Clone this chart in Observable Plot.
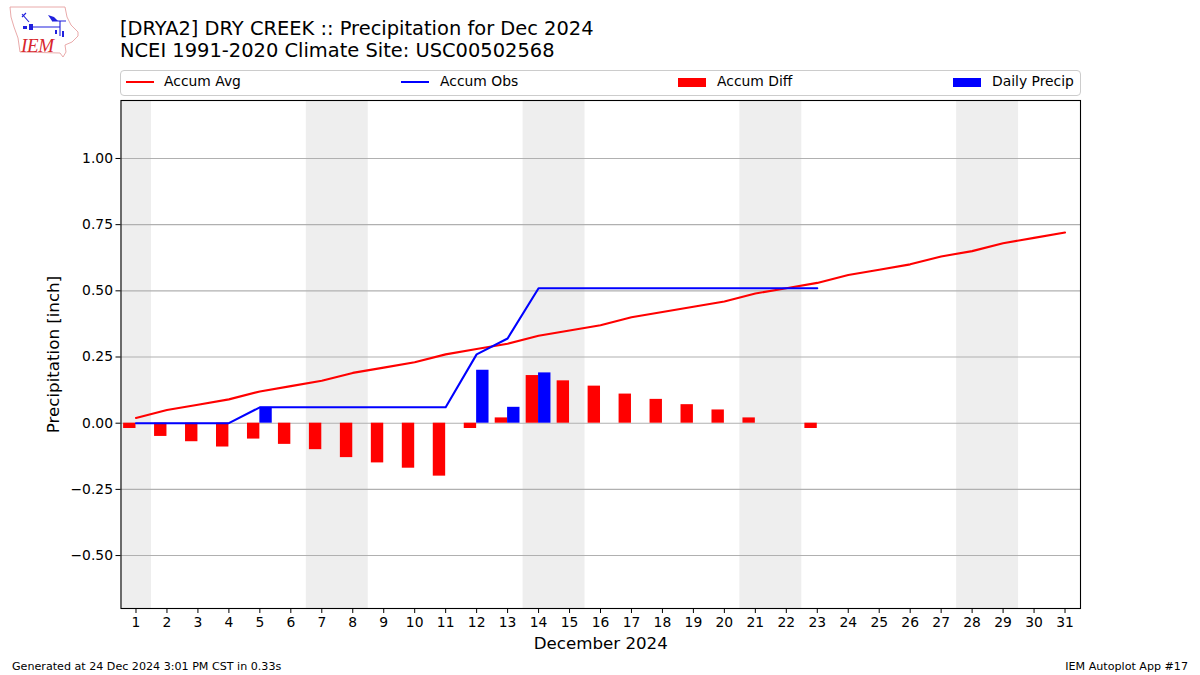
<!DOCTYPE html>
<html>
<head>
<meta charset="utf-8">
<script src="https://cdn.jsdelivr.net/npm/d3@7"></script>
<script src="https://cdn.jsdelivr.net/npm/@observablehq/plot@0.6"></script>
<style>
html,body{margin:0;padding:0;background:#fff;}
body{width:1200px;height:675px;position:relative;overflow:hidden;font-family:"DejaVu Sans",sans-serif;color:#000;}
#chart{position:absolute;left:0;top:0;}
.t{position:absolute;white-space:nowrap;}
#title{left:120px;top:18px;font-size:19.44px;line-height:22.2px;}
#legend{position:absolute;left:120px;top:70px;width:959px;height:24px;border:1px solid #ccc;border-radius:4px;box-sizing:content-box;}
.lt{position:absolute;top:2px;font-size:13.89px;line-height:17px;white-space:nowrap;}
.ll{position:absolute;top:9.5px;width:28px;height:2px;}
.lb{position:absolute;top:6.5px;width:28px;height:9px;}
.foot{font-size:11.11px;top:660px;line-height:13px;}
</style>
</head>
<body>
<div id="chart"></div>
<svg style="position:absolute;left:0;top:0" width="90" height="62" viewBox="0 0 90 62">
  <path d="M10 7 L65 7 L67 17 L71 25 L78 32 L78 36 L72 42 L65 45 L66 52 L63 57 L60 53 L20 52 L18 38 L14 27 L11 17 Z" fill="none" stroke="#e6a0a0" stroke-width="0.9"/>
  <path d="M31 27 L60 27 M60 21 L60 36 M52 21 L66 21 M22 17 L26 13 M22 14 L29 22" fill="none" stroke="#2020dd" stroke-width="1.1"/>
  <path d="M48 15 L54 17 L58 21 L52 21 Z M29 24 L33 24 L33 30 L29 30 Z M55 30 L57 30 L57 34 L55 34 Z M62 31 L64 31 L64 37 L62 37 Z M23 26 L27 26 L27 29 L23 29 Z" fill="#2020dd"/>
  <text x="21" y="52" font-family="Liberation Serif" font-style="italic" font-size="19" fill="#d8262c" textLength="33">IEM</text>
</svg>
<div id="title" class="t">[DRYA2] DRY CREEK :: Precipitation for Dec 2024<br>NCEI 1991-2020 Climate Site: USC00502568</div>
<div id="legend">
  <div class="ll" style="left:5px;background:#f00"></div><div class="lt" style="left:43px">Accum Avg</div>
  <div class="ll" style="left:280px;background:#00f"></div><div class="lt" style="left:319px">Accum Obs</div>
  <div class="lb" style="left:557px;background:#f00"></div><div class="lt" style="left:596px">Accum Diff</div>
  <div class="lb" style="left:832px;background:#00f"></div><div class="lt" style="left:871px">Daily Precip</div>
</div>
<div class="t foot" style="left:12px">Generated at 24 Dec 2024 3:01 PM CST in 0.33s</div>
<div class="t foot" style="right:12px">IEM Autoplot App #17</div>
<script>
const days = d3.range(1, 32);
const accumAvg = [0.02,0.05,0.07,0.09,0.12,0.14,0.16,0.19,0.21,0.23,0.26,0.28,0.30,0.33,0.35,0.37,0.40,0.42,0.44,0.46,0.49,0.51,0.53,0.56,0.58,0.60,0.63,0.65,0.68,0.70,0.72];
const accumObs = [0,0,0,0,0.06,0.06,0.06,0.06,0.06,0.06,0.06,0.26,0.32,0.51,0.51,0.51,0.51,0.51,0.51,0.51,0.51,0.51,0.51];
const accumDiff = [-0.02,-0.05,-0.07,-0.09,-0.06,-0.08,-0.10,-0.13,-0.15,-0.17,-0.20,-0.02,0.02,0.18,0.16,0.14,0.11,0.09,0.07,0.05,0.02,0,-0.02];
const dailyDays = [5,12,13,14];
const dailyPrecip = [0.06,0.20,0.06,0.19];
const weekends = [[0.5,1.5],[6.5,8.5],[13.5,15.5],[20.5,22.5],[27.5,29.5]];
const yTicks = [-0.5,-0.25,0,0.25,0.5,0.75,1];
const barWidth = 0.4;

const avgRows = accumAvg.map((v,i)=>({day:days[i],v}));
const obsRows = accumObs.map((v,i)=>({day:days[i],v}));
const diffRows = accumDiff.map((v,i)=>({day:days[i],v}));
const dailyRows = dailyPrecip.map((v,i)=>({day:dailyDays[i],v}));

const fmt = d3.format(".2f");
const plot = Plot.plot({
  width:1200, height:675,
  marginLeft:120.5, marginRight:120, marginTop:100, marginBottom:67,
  style:{fontFamily:'"DejaVu Sans",sans-serif',fontSize:"13.89px",color:"#000",background:"#fff"},
  x:{type:"linear",domain:[0.516,31.5],label:null},
  y:{type:"linear",domain:[-0.70,1.219],label:null},
  marks:[
    Plot.rectY(weekends,{x1:d=>d[0],x2:d=>d[1],y1:-0.70,y2:1.219,fill:"#eeeeee"}),
    Plot.ruleY(yTicks,{stroke:"#b0b0b0",strokeWidth:1.1}),
    Plot.rectY(diffRows,{x1:d=>d.day-barWidth,x2:d=>d.day,y1:0,y2:"v",fill:"#ff0000"}),
    Plot.rectY(dailyRows,{x1:"day",x2:d=>d.day+barWidth,y1:0,y2:"v",fill:"#0000ff"}),
    Plot.line(avgRows,{x:"day",y:"v",stroke:"#ff0000",strokeWidth:2.08}),
    Plot.line(obsRows,{x:"day",y:"v",stroke:"#0000ff",strokeWidth:2.08}),
    Plot.frame({stroke:"#000",strokeWidth:1.1}),
    Plot.axisX({ticks:days,tickFormat:d=>String(d),tickSize:5,tickPadding:4,label:"December 2024",labelAnchor:"center",labelArrow:"none",labelOffset:40,anchor:"bottom"}),
    Plot.axisY({ticks:yTicks,tickFormat:fmt,tickSize:5,tickPadding:3,label:"Precipitation [inch]",labelAnchor:"center",labelArrow:"none",labelOffset:74,anchor:"left"})
  ]
});
document.getElementById("chart").appendChild(plot);
d3.select(plot).selectAll('g[aria-label="x-axis label"], g[aria-label="y-axis label"]').style("font-size","16.67px");
d3.select(plot).selectAll('g[aria-label="x-axis tick label"], g[aria-label="y-axis tick label"]').style("font-size","13.89px");
</script>
</body>
</html>
